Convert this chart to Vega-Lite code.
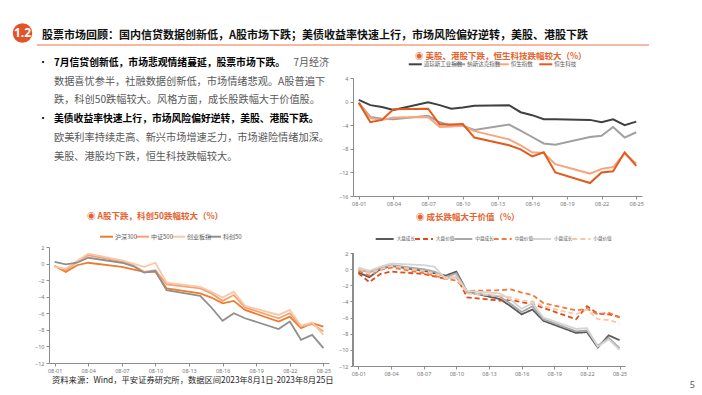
{
  "$schema": "https://vega.github.io/schema/vega-lite/v6.json",
  "background": "white",
  "padding": {"left": 12, "top": 22, "right": 0, "bottom": 0},
  "autosize": {"type": "pad"},
  "config": {
    "view": {"stroke": null},
    "font": "Noto Sans CJK SC",
    "axis": {"labelFont": "Noto Sans", "labelFontSize": 5.5, "labelColor": "#767676", "domainColor": "#8c8c8c", "tickColor": "#8c8c8c", "tickSize": 3, "labelPadding": 2, "grid": false, "labelOverlap": false, "labelFlush": false},
    "title": {"font": "Noto Sans CJK SC", "fontSize": 8.5, "fontWeight": "bold", "color": "#E5632D"}
  },
  "datasets": {
    "header": [{"badge": "1.2", "title": "股票市场回顾：国内信贷数据创新低，A股市场下跌；美债收益率快速上行，市场风险偏好逆转，美股、港股下跌"}],
    "notes": [
      {"line": 1, "part": "lead", "text": "7月信贷创新低，市场悲观情绪蔓延，股票市场下跌。"},
      {"line": 1, "part": "tail", "text": "7月经济"},
      {"line": 2, "part": "body", "text": "数据喜忧参半，社融数据创新低，市场情绪悲观。A股普遍下"},
      {"line": 3, "part": "body", "text": "跌，科创50跌幅较大。风格方面，成长股跌幅大于价值股。"},
      {"line": 4, "part": "lead", "text": "美债收益率快速上行，市场风险偏好逆转，美股、港股下跌。"},
      {"line": 5, "part": "body", "text": "欧美利率持续走高、新兴市场增速乏力，市场避险情绪加深。"},
      {"line": 6, "part": "body", "text": "美股、港股均下跌，恒生科技跌幅较大。"}
    ],
    "footer": [{"source": "资料来源：Wind，平安证券研究所，数据区间2023年8月1日-2023年8月25日", "page": "5"}],
    "usHk": [
      {"day": 1, "道琼斯工业指数": 0.3, "纳斯达克指数": -0.2, "恒生指数": -0.3, "恒生科技": -0.2},
      {"day": 2, "道琼斯工业指数": -0.6, "纳斯达克指数": -2.6, "恒生指数": -2.8, "恒生科技": -3.5},
      {"day": 3, "道琼斯工业指数": -0.9, "纳斯达克指数": -2.9, "恒生指数": -3.1, "恒生科技": -3.1},
      {"day": 4, "道琼斯工业指数": -1.4, "纳斯达克指数": -3.0, "恒生指数": -2.7, "恒生科技": -1.3},
      {"day": 7, "道琼斯工业指数": -0.1, "纳斯达克指数": -2.4, "恒生指数": -2.6, "恒生科技": -1.2},
      {"day": 8, "道琼斯工业指数": -0.6, "纳斯达克指数": -3.5, "恒生指数": -4.3, "恒生科技": -3.9},
      {"day": 9, "道琼斯工业指数": -1.2, "纳斯达克指数": -4.1, "恒生指数": -4.2, "恒生科技": -3.9},
      {"day": 10, "道琼斯工业指数": -1.0, "纳斯达克指数": -4.1, "恒生指数": -4.1, "恒生科技": -3.8},
      {"day": 11, "道琼斯工业指数": -0.7, "纳斯达克指数": -4.8, "恒生指数": -5.0, "恒生科技": -6.1},
      {"day": 14, "道琼斯工业指数": -0.6, "纳斯达克指数": -3.9, "恒生指数": -6.4, "恒生科技": -7.4},
      {"day": 15, "道琼斯工业指数": -1.8, "纳斯达克指数": -4.9, "恒生指数": -7.4, "恒生科技": -8.1},
      {"day": 16, "道琼斯工业指数": -2.3, "纳斯达克指数": -6.0, "恒生指数": -8.6, "恒生科技": -9.3},
      {"day": 17, "道琼斯工业指数": -3.0, "纳斯达克指数": -7.1, "恒生指数": -8.7, "恒生科技": -8.6},
      {"day": 18, "道琼斯工业指数": -3.0, "纳斯达克指数": -7.3, "恒生指数": -10.6, "恒生科技": -12.0},
      {"day": 21, "道琼斯工业指数": -3.1, "纳斯达克指数": -6.0, "恒生指数": -12.2, "恒生科技": -13.8},
      {"day": 22, "道琼斯工业指数": -3.5, "纳斯达克指数": -5.8, "恒生指数": -11.4, "恒生科技": -12.0},
      {"day": 23, "道琼斯工业指数": -3.0, "纳斯达克指数": -4.3, "恒生指数": -11.1, "恒生科技": -11.8},
      {"day": 24, "道琼斯工业指数": -4.0, "纳斯达克指数": -6.1, "恒生指数": -8.8, "恒生科技": -8.6},
      {"day": 25, "道琼斯工业指数": -3.4, "纳斯达克指数": -5.2, "恒生指数": -10.5, "恒生科技": -10.9}
    ],
    "aShare": [
      {"day": 1, "沪深300": -0.3, "中证500": -0.3, "创业板指": -0.4, "科创50": 0.2},
      {"day": 2, "沪深300": -1.0, "中证500": -0.8, "创业板指": -0.6, "科创50": -0.1},
      {"day": 3, "沪深300": -0.2, "中证500": 0.2, "创业板指": 0.3, "科创50": 0.1},
      {"day": 4, "沪深300": 0.1, "中证500": 1.0, "创业板指": 1.2, "科创50": 0.7},
      {"day": 7, "沪深300": -0.4, "中证500": 0.3, "创业板指": 0.4, "科创50": 0.1},
      {"day": 8, "沪深300": -0.7, "中证500": -0.2, "创业板指": 0.0, "科创50": -0.3},
      {"day": 9, "沪深300": -1.0, "中证500": -1.0, "创业板指": -0.4, "科创50": -1.1},
      {"day": 10, "沪深300": -1.0, "中证500": -0.8, "创业板指": 0.1, "科创50": -0.9},
      {"day": 11, "沪深300": -3.0, "中证500": -2.5, "创业板指": -2.3, "科创50": -3.2},
      {"day": 14, "沪深300": -3.6, "中证500": -3.0, "创业板指": -2.8, "科创50": -3.9},
      {"day": 15, "沪深300": -4.1, "中证500": -3.6, "创业板指": -3.4, "科创50": -5.3},
      {"day": 16, "沪深300": -4.8, "中证500": -4.5, "创业板指": -4.1, "科创50": -6.9},
      {"day": 17, "沪深300": -4.5, "中证500": -3.8, "创业板指": -3.4, "科创50": -6.0},
      {"day": 18, "沪深300": -5.6, "中证500": -5.3, "创业板指": -5.1, "科创50": -6.6},
      {"day": 21, "沪深300": -7.0, "中证500": -6.6, "创业板指": -6.2, "科创50": -7.9},
      {"day": 22, "沪深300": -6.4, "中证500": -6.0, "创业板指": -5.6, "科创50": -7.0},
      {"day": 23, "沪深300": -7.8, "中证500": -7.6, "创业板指": -7.5, "科创50": -9.2},
      {"day": 24, "沪深300": -7.2, "中证500": -7.3, "创业板指": -7.1, "科创50": -8.6},
      {"day": 25, "沪深300": -7.6, "中证500": -8.2, "创业板指": -8.6, "科创50": -10.2}
    ],
    "style": [
      {"day": 1, "大盘成长": -0.4, "大盘价值": -0.5, "中盘成长": 0.0, "中盘价值": -0.2, "小盘成长": 0.2, "小盘价值": 0.1},
      {"day": 2, "大盘成长": -1.0, "大盘价值": -1.6, "中盘成长": -0.4, "中盘价值": -0.8, "小盘成长": -0.2, "小盘价值": -0.5},
      {"day": 3, "大盘成长": 0.0, "大盘价值": -0.6, "中盘成长": 0.1, "中盘价值": -0.1, "小盘成长": 0.3, "小盘价值": 0.0},
      {"day": 4, "大盘成长": 0.4, "大盘价值": -0.3, "中盘成长": 0.5, "中盘价值": 0.2, "小盘成长": 0.7, "小盘价值": 0.4},
      {"day": 7, "大盘成长": -0.2, "大盘价值": -0.6, "中盘成长": 0.0, "中盘价值": -0.5, "小盘成长": 0.5, "小盘价值": -0.2},
      {"day": 8, "大盘成长": -0.5, "大盘价值": -0.9, "中盘成长": -0.3, "中盘价值": -0.8, "小盘成长": 0.3, "小盘价值": -0.5},
      {"day": 9, "大盘成长": -0.8, "大盘价值": -1.2, "中盘成长": -1.0, "中盘价值": -1.2, "小盘成长": -1.2, "小盘价值": -1.0},
      {"day": 10, "大盘成长": -0.3, "大盘价值": -0.9, "中盘成长": -0.5, "中盘价值": -1.4, "小盘成长": -0.9, "小盘价值": -1.1},
      {"day": 11, "大盘成长": -2.8, "大盘价值": -3.5, "中盘成长": -2.9, "中盘价值": -2.7, "小盘成长": -2.7, "小盘价值": -3.0},
      {"day": 14, "大盘成长": -3.7, "大盘价值": -3.9, "中盘成长": -3.4, "中盘价值": -2.6, "小盘成长": -3.0, "小盘价值": -3.3},
      {"day": 15, "大盘成长": -4.6, "大盘价值": -3.8, "中盘成长": -4.3, "中盘价值": -2.5, "小盘成长": -3.8, "小盘价值": -3.5},
      {"day": 16, "大盘成长": -5.6, "大盘价值": -4.1, "中盘成长": -5.3, "中盘价值": -2.9, "小盘成长": -4.9, "小盘价值": -3.9},
      {"day": 17, "大盘成长": -5.0, "大盘价值": -4.3, "中盘成长": -4.6, "中盘价值": -3.2, "小盘成长": -4.2, "小盘价值": -4.0},
      {"day": 18, "大盘成长": -6.4, "大盘价值": -4.8, "中盘成长": -6.2, "中盘价值": -4.2, "小盘成长": -6.0, "小盘价值": -4.6},
      {"day": 21, "大盘成长": -7.9, "大盘价值": -6.2, "中盘成长": -7.7, "中盘价值": -5.1, "小盘成长": -7.4, "小盘价值": -5.6},
      {"day": 22, "大盘成长": -7.8, "大盘价值": -4.6, "中盘成长": -7.6, "中盘价值": -4.9, "小盘成长": -7.3, "小盘价值": -5.0},
      {"day": 23, "大盘成长": -9.7, "大盘价值": -5.5, "中盘成长": -9.5, "中盘价值": -5.6, "小盘成长": -9.6, "小盘价值": -6.2},
      {"day": 24, "大盘成长": -8.2, "大盘价值": -5.6, "中盘成长": -8.5, "中盘价值": -5.4, "小盘成长": -8.7, "小盘价值": -6.3},
      {"day": 25, "大盘成长": -8.8, "大盘价值": -5.9, "中盘成长": -9.8, "中盘价值": -6.0, "小盘成长": -10.0, "小盘价值": -6.7}
    ]
  },
  "resolve": {"scale": {"color": "independent", "strokeDash": "independent", "strokeWidth": "independent"}},
  "columns": 2,
  "align": "each",
  "bounds": "flush",
  "spacing": {"row": 6, "column": 24},
  "concat": [
    {
      "width": 280, "height": 50,
      "data": {"name": "header"},
      "encoding": {
        "x": {"datum": 0, "type": "quantitative", "scale": {"domain": [0, 1]}, "axis": null},
        "y": {"datum": 1, "type": "quantitative", "scale": {"domain": [0, 1]}, "axis": null}
      },
      "layer": [
        {"mark": {"type": "point", "filled": true, "size": 380, "color": "#E2532A", "opacity": 1, "xOffset": -26.5, "yOffset": 11}},
        {"mark": {"type": "text", "color": "white", "font": "Noto Sans", "fontWeight": "bold", "fontSize": 12, "baseline": "middle", "align": "center", "dx": -26.5, "dy": 11}, "encoding": {"text": {"field": "badge"}}},
        {"mark": {"type": "rule", "color": "#E8704A", "strokeWidth": 1, "xOffset": -12, "x2Offset": 320, "yOffset": 23}, "encoding": {"x2": {"datum": 1}}},
        {"mark": {"type": "text", "align": "left", "baseline": "middle", "dx": -7, "dy": 14, "fontSize": 11, "fontWeight": "bold", "color": "#111111"}, "encoding": {"text": {"field": "title"}}}
      ]
    },
    {"width": 10, "height": 50, "data": {"values": [{}]}, "mark": "text", "encoding": {"text": {"value": ""}}},
    {
      "width": 280, "height": 163,
      "data": {"name": "notes"},
      "encoding": {
        "x": {"datum": 0, "type": "quantitative", "scale": {"domain": [0, 1]}, "axis": null},
        "y": {"field": "line", "type": "quantitative", "scale": {"domain": [1.811, 10.454], "reverse": true, "nice": false, "zero": false}, "axis": null}
      },
      "layer": [
        {"transform": [{"filter": "datum.part === 'lead'"}], "mark": {"type": "text", "align": "left", "baseline": "middle", "dx": 5, "fontSize": 9.8, "fontWeight": "bold", "color": "#000000"}, "encoding": {"text": {"field": "text"}}},
        {"transform": [{"filter": "datum.part === 'lead'"}], "mark": {"type": "text", "align": "left", "baseline": "middle", "dx": -11, "fontSize": 10, "color": "#000000"}, "encoding": {"text": {"value": "•"}}},
        {"transform": [{"filter": "datum.part === 'body'"}], "mark": {"type": "text", "align": "left", "baseline": "middle", "dx": 5, "fontSize": 10.2, "color": "#595959"}, "encoding": {"text": {"field": "text"}}},
        {"transform": [{"filter": "datum.part === 'tail'"}], "mark": {"type": "text", "align": "right", "baseline": "middle", "fontSize": 10, "color": "#595959"}, "encoding": {"x": {"datum": 1, "type": "quantitative"}, "text": {"field": "text"}}}
      ]
    },
    {
      "width": 289, "height": 118,
      "data": {"name": "usHk"},
      "transform": [{"fold": ["道琼斯工业指数", "纳斯达克指数", "恒生指数", "恒生科技"], "as": ["series", "value"]}],
      "title": {"text": "◉ 美股、港股下跌，恒生科技跌幅较大（%）", "anchor": "start", "frame": "group", "dx": 62, "offset": 2},
      "resolve": {"scale": {"x": "independent"}},
      "layer": [
        {
          "mark": {"type": "line"},
          "encoding": {
            "x": {"field": "day", "type": "quantitative", "scale": {"domain": [0.5, 25.5], "nice": false, "zero": false}, "axis": {"values": [1, 4, 7, 10, 13, 16, 19, 22, 25], "labelExpr": "'08-' + (datum.value < 10 ? '0' : '') + datum.value", "title": null}},
            "y": {"field": "value", "type": "quantitative", "scale": {"domain": [-16, 4], "nice": false}, "axis": {"values": [-16, -12, -8, -4, 0, 4], "title": null}},
            "color": {"field": "series", "type": "nominal", "scale": {"domain": ["道琼斯工业指数", "纳斯达克指数", "恒生指数", "恒生科技"], "range": ["#404040", "#a0a0a0", "#f6a57c", "#e35a1c"]}, "legend": null},
            "strokeWidth": {"field": "series", "type": "nominal", "scale": {"domain": ["道琼斯工业指数", "纳斯达克指数", "恒生指数", "恒生科技"], "range": [2, 2, 1.6, 2.4]}, "legend": null}
          }
        },
        {
          "transform": [{"aggregate": [{"op": "count", "as": "n"}], "groupby": ["series"]}],
          "mark": {"type": "rule", "x2Offset": 13, "yOffset": -13.7, "strokeWidth": 2},
          "encoding": {
            "x": {"field": "series", "type": "nominal", "scale": {"type": "point", "domain": ["道琼斯工业指数", "纳斯达克指数", "恒生指数", "恒生科技"], "range": [34, 208]}, "axis": null},
            "x2": {"field": "series"},
            "y": {"datum": 4, "type": "quantitative", "scale": {"domain": [-16, 4], "nice": false}, "axis": {"values": [-16, -12, -8, -4, 0, 4], "title": null}},
            "color": {"field": "series", "type": "nominal", "legend": null}
          }
        },
        {
          "transform": [{"aggregate": [{"op": "count", "as": "n"}], "groupby": ["series"]}],
          "mark": {"type": "text", "align": "left", "baseline": "middle", "dx": 15, "dy": -13.7, "fontSize": 5.5, "color": "#595959"},
          "encoding": {
            "x": {"field": "series", "type": "nominal", "scale": {"type": "point", "domain": ["道琼斯工业指数", "纳斯达克指数", "恒生指数", "恒生科技"], "range": [34, 208]}, "axis": null},
            "y": {"datum": 4, "type": "quantitative", "scale": {"domain": [-16, 4], "nice": false}, "axis": {"values": [-16, -12, -8, -4, 0, 4], "title": null}},
            "text": {"field": "series"}
          }
        }
      ]
    },
    {
      "width": 280, "height": 116,
      "data": {"name": "aShare"},
      "transform": [{"fold": ["沪深300", "中证500", "创业板指", "科创50"], "as": ["series", "value"]}],
      "title": {"text": "◉ A股下跌，科创50跌幅较大（%）", "anchor": "start", "frame": "group", "dx": 38, "offset": 13.5},
      "resolve": {"scale": {"x": "independent"}},
      "layer": [
        {
          "mark": {"type": "line", "strokeWidth": 1.8},
          "encoding": {
            "x": {"field": "day", "type": "quantitative", "scale": {"domain": [0.5, 25.5], "nice": false, "zero": false}, "axis": {"values": [1, 4, 7, 10, 13, 16, 19, 22, 25], "labelExpr": "'08-' + (datum.value < 10 ? '0' : '') + datum.value", "title": null}},
            "y": {"field": "value", "type": "quantitative", "scale": {"domain": [-12, 2], "nice": false}, "axis": {"values": [-12, -10, -8, -6, -4, -2, 0, 2], "title": null}},
            "color": {"field": "series", "type": "nominal", "scale": {"domain": ["沪深300", "中证500", "创业板指", "科创50"], "range": ["#f07a2c", "#f5a273", "#f9c8a6", "#8f8f8f"]}, "legend": null}
          }
        },
        {
          "transform": [{"aggregate": [{"op": "count", "as": "n"}], "groupby": ["series"]}],
          "mark": {"type": "rule", "x2Offset": 13, "yOffset": -10.3, "strokeWidth": 2},
          "encoding": {
            "x": {"field": "series", "type": "nominal", "scale": {"type": "point", "domain": ["沪深300", "中证500", "创业板指", "科创50"], "range": [33, 177]}, "axis": null},
            "x2": {"field": "series"},
            "y": {"datum": 2, "type": "quantitative", "scale": {"domain": [-12, 2], "nice": false}, "axis": {"values": [-12, -10, -8, -6, -4, -2, 0, 2], "title": null}},
            "color": {"field": "series", "type": "nominal", "legend": null}
          }
        },
        {
          "transform": [{"aggregate": [{"op": "count", "as": "n"}], "groupby": ["series"]}],
          "mark": {"type": "text", "align": "left", "baseline": "middle", "dx": 15, "dy": -10.3, "fontSize": 6, "color": "#595959"},
          "encoding": {
            "x": {"field": "series", "type": "nominal", "scale": {"type": "point", "domain": ["沪深300", "中证500", "创业板指", "科创50"], "range": [33, 177]}, "axis": null},
            "y": {"datum": 2, "type": "quantitative", "scale": {"domain": [-12, 2], "nice": false}, "axis": {"values": [-12, -10, -8, -6, -4, -2, 0, 2], "title": null}},
            "text": {"field": "series"}
          }
        }
      ]
    },
    {
      "width": 272, "height": 119,
      "data": {"name": "style"},
      "transform": [{"fold": ["大盘成长", "大盘价值", "中盘成长", "中盘价值", "小盘成长", "小盘价值"], "as": ["series", "value"]}],
      "title": {"text": "◉ 成长跌幅大于价值（%）", "anchor": "start", "frame": "group", "dx": 63, "offset": 15},
      "resolve": {"scale": {"x": "independent"}},
      "layer": [
        {
          "mark": {"type": "rule", "color": "#8c8c8c", "strokeWidth": 1},
          "encoding": {
            "x": {"datum": 0.5, "type": "quantitative", "scale": {"domain": [0.5, 25.5]}, "axis": null},
            "y": {"datum": -12, "type": "quantitative", "scale": {"domain": [-12, 2.75], "nice": false}, "axis": {"values": [-12, -10, -8, -6, -4, -2, 0, 2], "title": null, "domain": false}},
            "y2": {"datum": 2}
          }
        },
        {
          "mark": {"type": "line", "strokeWidth": 1.8},
          "encoding": {
            "x": {"field": "day", "type": "quantitative", "scale": {"domain": [0.5, 25.5], "nice": false, "zero": false}, "axis": {"values": [1, 4, 7, 10, 13, 16, 19, 22, 25], "labelExpr": "'08-' + (datum.value < 10 ? '0' : '') + datum.value", "title": null}},
            "y": {"field": "value", "type": "quantitative", "scale": {"domain": [-12, 2.75], "nice": false}, "axis": {"values": [-12, -10, -8, -6, -4, -2, 0, 2], "title": null, "domain": false}},
            "color": {"field": "series", "type": "nominal", "scale": {"domain": ["大盘成长", "大盘价值", "中盘成长", "中盘价值", "小盘成长", "小盘价值"], "range": ["#5a5a5a", "#e2491b", "#a8a8a8", "#f07b3f", "#d4d4d4", "#f8c6a6"]}, "legend": null},
            "strokeDash": {"field": "series", "type": "nominal", "scale": {"domain": ["大盘成长", "大盘价值", "中盘成长", "中盘价值", "小盘成长", "小盘价值"], "range": [[1, 0], [5, 3], [1, 0], [5, 3], [1, 0], [5, 3]]}, "legend": null}
          }
        },
        {
          "transform": [{"aggregate": [{"op": "count", "as": "n"}], "groupby": ["series"]}],
          "mark": {"type": "rule", "x2Offset": 18, "yOffset": -8, "strokeWidth": 2},
          "encoding": {
            "x": {"field": "series", "type": "nominal", "scale": {"type": "point", "domain": ["大盘成长", "大盘价值", "中盘成长", "中盘价值", "小盘成长", "小盘价值"], "range": [3, 239]}, "axis": null},
            "x2": {"field": "series"},
            "y": {"datum": 2.75, "type": "quantitative", "scale": {"domain": [-12, 2.75], "nice": false}, "axis": {"values": [-12, -10, -8, -6, -4, -2, 0, 2], "title": null, "domain": false}},
            "color": {"field": "series", "type": "nominal", "legend": null},
            "strokeDash": {"field": "series", "type": "nominal", "legend": null}
          }
        },
        {
          "transform": [{"aggregate": [{"op": "count", "as": "n"}], "groupby": ["series"]}],
          "mark": {"type": "text", "align": "left", "baseline": "middle", "dx": 21, "dy": -8, "fontSize": 4.6, "color": "#595959"},
          "encoding": {
            "x": {"field": "series", "type": "nominal", "scale": {"type": "point", "domain": ["大盘成长", "大盘价值", "中盘成长", "中盘价值", "小盘成长", "小盘价值"], "range": [3, 239]}, "axis": null},
            "y": {"datum": 2.75, "type": "quantitative", "scale": {"domain": [-12, 2.75], "nice": false}, "axis": {"values": [-12, -10, -8, -6, -4, -2, 0, 2], "title": null, "domain": false}},
            "text": {"field": "series"}
          }
        }
      ]
    },
    {
      "width": 280, "height": 20,
      "data": {"name": "footer"},
      "mark": {"type": "text", "align": "left", "baseline": "middle", "dx": 3, "dy": -1, "fontSize": 8.3, "color": "#262626"},
      "encoding": {
        "x": {"datum": 0, "type": "quantitative", "scale": {"domain": [0, 1]}, "axis": null},
        "text": {"field": "source"}
      }
    },
    {
      "width": 344, "height": 20,
      "data": {"name": "footer"},
      "mark": {"type": "text", "align": "right", "baseline": "middle", "dx": -2, "dy": 3, "fontSize": 9, "font": "Noto Sans", "color": "#595959"},
      "encoding": {
        "x": {"datum": 1, "type": "quantitative", "scale": {"domain": [0, 1]}, "axis": null},
        "text": {"field": "page"}
      }
    }
  ]
}
